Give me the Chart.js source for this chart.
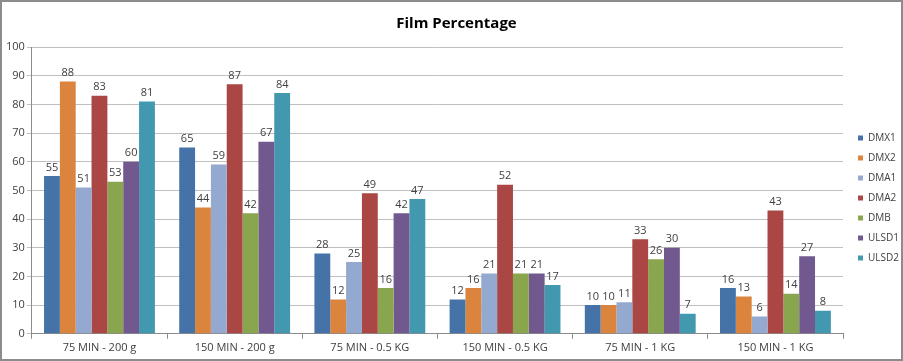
<!DOCTYPE html>
<html>
<head>
<meta charset="utf-8">
<script src="https://cdn.jsdelivr.net/npm/chart.js@4/dist/chart.umd.min.js"></script>
<style>
  body { margin: 0; background: #fff; }
  #wrap { width: 899px; height: 357px; border: 2px solid #8c8c8c; }
</style>
</head>
<body>
<div id="wrap"><canvas id="filmChart" width="899" height="357"></canvas></div>
<script>
// Data
const categories = ['75 MIN - 200 g', '150 MIN - 200 g', '75 MIN - 0.5 KG', '150 MIN - 0.5 KG', '75 MIN - 1 KG', '150 MIN - 1 KG'];
const seriesNames = ['DMX1', 'DMX2', 'DMA1', 'DMA2', 'DMB', 'ULSD1', 'ULSD2'];
const dmx1 = [55, 65, 28, 12, 10, 16];
const dmx2 = [88, 44, 12, 16, 10, 13];
const dma1 = [51, 59, 25, 21, 11, 6];
const dma2 = [83, 87, 49, 52, 33, 43];
const dmb = [53, 42, 16, 21, 26, 14];
const ulsd1 = [60, 67, 42, 21, 30, 27];
const ulsd2 = [81, 84, 47, 17, 7, 8];
const yTicks = [0, 10, 20, 30, 40, 50, 60, 70, 80, 90, 100];

const colors = ['#4572a7', '#db843d', '#93a9cf', '#aa4643', '#89a54e', '#71588f', '#4198af'];
const values = [dmx1, dmx2, dma1, dma2, dmb, ulsd1, ulsd2];
const textColor = '#404040';
const font = '"Open Sans", sans-serif';

// value labels on top of each bar
const barLabels = {
  id: 'barLabels',
  afterDatasetsDraw(chart) {
    const c = chart.ctx;
    c.save();
    c.font = '11px ' + font;
    c.fillStyle = textColor;
    c.textAlign = 'center';
    c.textBaseline = 'bottom';
    chart.data.datasets.forEach((ds, i) => {
      chart.getDatasetMeta(i).data.forEach((bar, j) => {
        c.fillText(ds.data[j], bar.x, bar.y - 3);
      });
    });
    c.restore();
  }
};

new Chart(document.getElementById('filmChart'), {
  type: 'bar',
  data: {
    labels: categories,
    datasets: seriesNames.map((name, i) => ({
      label: name,
      data: values[i],
      backgroundColor: colors[i],
      borderWidth: 0,
      categoryPercentage: 0.82,
      barPercentage: 1.0
    }))
  },
  options: {
    responsive: false,
    animation: false,
    layout: { padding: { left: 2, right: -8, top: 0, bottom: 3 } },
    plugins: {
      title: {
        display: true,
        text: 'Film Percentage',
        color: '#000',
        font: { family: font, size: 15, weight: 'bold' },
        padding: { top: 13, bottom: 14 }
      },
      legend: {
        position: 'right',
        title: { display: true, text: '', font: { size: 10 }, padding: { top: 26, bottom: 0 } },
        labels: {
          boxWidth: 5,
          boxHeight: 5,
          padding: 10,
          color: textColor,
          font: { family: font, size: 10 }
        }
      },
      tooltip: { enabled: false }
    },
    scales: {
      x: {
        grid: { offset: true, drawOnChartArea: false, drawTicks: true, tickLength: 5, color: '#8c8c8c' },
        border: { color: '#8c8c8c' },
        ticks: { color: textColor, font: { family: font, size: 11 }, padding: 2 }
      },
      y: {
        min: 0,
        max: 100,
        afterBuildTicks(axis) { axis.ticks = yTicks.map(v => ({ value: v })); },
        grid: { color: '#c0c0c0', tickLength: 5 },
        border: { color: '#8c8c8c' },
        ticks: { color: textColor, font: { family: font, size: 11 }, padding: 2 }
      },
      // empty spacer between plot and legend
      gap: {
        type: 'linear',
        position: 'right',
        display: true,
        grid: { display: false },
        border: { display: false },
        ticks: { display: false },
        afterFit(scale) { scale.width = 5; }
      }
    }
  },
  plugins: [barLabels]
});
</script>
</body>
</html>
